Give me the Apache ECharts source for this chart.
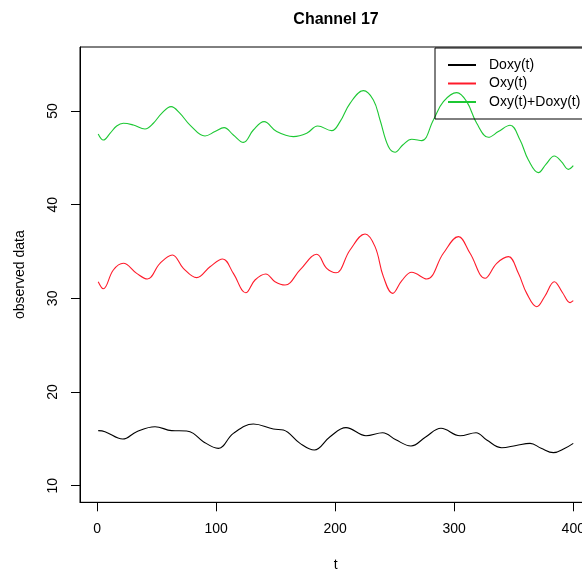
<!DOCTYPE html>
<html>
<head>
<meta charset="utf-8">
<title>Channel 17</title>
<script src="https://cdn.jsdelivr.net/npm/echarts@6/dist/echarts.min.js"></script>
<style>
  html, body { margin: 0; padding: 0; background: #ffffff; }
  #chart { width: 582px; height: 575px; }
</style>
</head>
<body>
<div id="chart"></div>
<script>
// Observed signals for channel 17, sampled along t
const doxyT = [1, 6.7, 21.6, 33.3, 48.7, 62.7, 75.3, 80.9, 89.3, 101.9, 114.5, 131.3, 148.1, 156.5, 170.5, 182.5, 195.7, 209.1, 225.9, 239.9, 251, 263.7, 276, 288.9, 304.9, 318.3, 327.3, 339.9, 352, 363.7, 373, 383.3, 393, 400];
const doxyV = [15.88, 15.77, 14.98, 15.77, 16.3, 15.88, 15.84, 15.59, 14.7, 13.99, 15.59, 16.58, 16.05, 15.95, 14.52, 13.81, 15.23, 16.2, 15.34, 15.66, 14.9, 14.24, 15.2, 16.13, 15.34, 15.66, 14.88, 14.06, 14.3, 14.52, 14.0, 13.53, 14.0, 14.52];

const oxyT = [1, 5.3, 13.7, 22.1, 33.3, 42.3, 52.9, 63.3, 72.5, 83.7, 94.9, 105.5, 114.5, 124.9, 132.7, 141.7, 149.5, 157.9, 170.5, 184.5, 192.9, 200.7, 212.5, 225.1, 233.5, 240.5, 248.3, 256, 264.3, 276.9, 290.9, 303.5, 313.3, 325.9, 335.7, 345.5, 353.9, 360.9, 369.3, 376, 384.1, 391, 397.3, 400];
const oxyV = [31.78, 31.03, 33.03, 33.74, 32.67, 32.07, 33.74, 34.63, 33.21, 32.21, 33.38, 34.2, 32.67, 30.6, 31.96, 32.6, 31.78, 31.42, 33.03, 34.7, 33.2, 32.74, 35.16, 36.87, 35.52, 32.32, 30.53, 31.9, 32.78, 32.07, 34.81, 36.59, 34.81, 32.14, 33.74, 34.45, 32.67, 30.53, 29.11, 30.2, 31.78, 30.6, 29.54, 29.75];

const sumT = [1, 5.3, 10.9, 16.5, 22.1, 30.5, 40.3, 47.3, 54.3, 62.2, 69.7, 78.1, 90.7, 99.1, 106.7, 114.5, 122.9, 131.3, 140.3, 150.9, 164.9, 176.1, 185.3, 197.1, 204.1, 212.5, 223.7, 232.1, 237.7, 244.7, 250.3, 257, 264.3, 272.7, 282.5, 290.9, 302.1, 310.5, 318.9, 328.7, 337.1, 346.9, 355.3, 362.3, 370.7, 377, 384.1, 390, 395.9, 400];
const sumV = [47.55, 46.9, 47.6, 48.4, 48.69, 48.5, 48.08, 48.69, 49.75, 50.47, 49.75, 48.5, 47.33, 47.8, 48.22, 47.44, 46.65, 47.97, 48.86, 47.8, 47.26, 47.62, 48.4, 47.9, 48.86, 50.82, 52.17, 51.18, 49.04, 46.2, 45.6, 46.4, 46.98, 46.84, 49.04, 51.0, 51.96, 51.0, 48.69, 47.19, 47.8, 48.47, 46.9, 44.77, 43.42, 44.3, 45.2, 44.6, 43.77, 44.16];

const seriesNames = ['Doxy(t)', 'Oxy(t)', 'Oxy(t)+Doxy(t)'];
const seriesColors = ['#000000', '#ff1a2a', '#1cc833'];

const xTicks = [0, 100, 200, 300, 400];
const yTicks = [10, 20, 30, 40, 50];

const zip = (ts, vs) => ts.map((t, i) => [t, vs[i]]);
const seriesData = [zip(doxyT, doxyV), zip(oxyT, oxyV), zip(sumT, sumV)];

const FONT = '"Liberation Sans", Arial, Helvetica, sans-serif';

const chart = echarts.init(document.getElementById('chart'), null, { renderer: 'canvas' });

chart.setOption({
  animation: false,
  backgroundColor: '#ffffff',
  title: {
    text: 'Channel 17',
    left: 336,
    textAlign: 'center',
    top: 12,
    padding: 0,
    textStyle: { fontFamily: FONT, fontSize: 16, fontWeight: 'bold', color: '#000' }
  },
  legend: {
    orient: 'vertical',
    left: 435,
    top: 48,
    padding: [10, 12, 10, 13],
    itemWidth: 28,
    itemHeight: 14,
    itemGap: 4.5,
    icon: 'path://M0,0L28,0L28,2L0,2Z',
    symbolKeepAspect: true,
    borderColor: '#000',
    borderWidth: 1,
    borderRadius: 0,
    backgroundColor: 'transparent',
    data: seriesNames,
    textStyle: { fontFamily: FONT, fontSize: 14, color: '#000', padding: [0, 0, 0, 8] }
  },
  grid: {
    left: 80,
    top: 47,
    right: -9.5,
    bottom: 72.7,
    show: true,
    borderColor: '#000',
    borderWidth: 1,
    backgroundColor: 'transparent',
    containLabel: false,
    outerBoundsMode: 'none'
  },
  xAxis: {
    type: 'value',
    min: -14.3,
    max: 415.3,
    name: 't',
    nameLocation: 'middle',
    nameGap: 56,
    nameTextStyle: { fontFamily: FONT, fontSize: 14, color: '#000' },
    axisLine: { show: true, onZero: false, lineStyle: { color: '#000', width: 1 } },
    axisTick: { show: true, inside: false, length: 9, lineStyle: { color: '#000', width: 1 }, customValues: xTicks },
    axisLabel: { show: true, margin: 20, fontFamily: FONT, fontSize: 14, color: '#000', customValues: xTicks, showMinLabel: true, showMaxLabel: true },
    splitLine: { show: false }
  },
  yAxis: {
    type: 'value',
    min: 8.23,
    max: 56.83,
    name: 'observed data',
    nameLocation: 'middle',
    nameGap: 53,
    nameRotate: 90,
    nameTextStyle: { fontFamily: FONT, fontSize: 14, color: '#000' },
    axisLine: { show: true, onZero: false, lineStyle: { color: '#000', width: 1 } },
    axisTick: { show: true, inside: false, length: 9, lineStyle: { color: '#000', width: 1 }, customValues: yTicks },
    axisLabel: { show: true, margin: 20, rotate: 90, fontFamily: FONT, fontSize: 14, color: '#000', customValues: yTicks },
    splitLine: { show: false }
  },
  series: seriesNames.map((name, i) => ({
    name: name,
    type: 'line',
    data: seriesData[i],
    symbol: 'none',
    showSymbol: false,
    smooth: 0.4,
    clip: true,
    color: seriesColors[i],
    lineStyle: { color: seriesColors[i], width: 1.1 }
  }))
});
</script>
</body>
</html>
